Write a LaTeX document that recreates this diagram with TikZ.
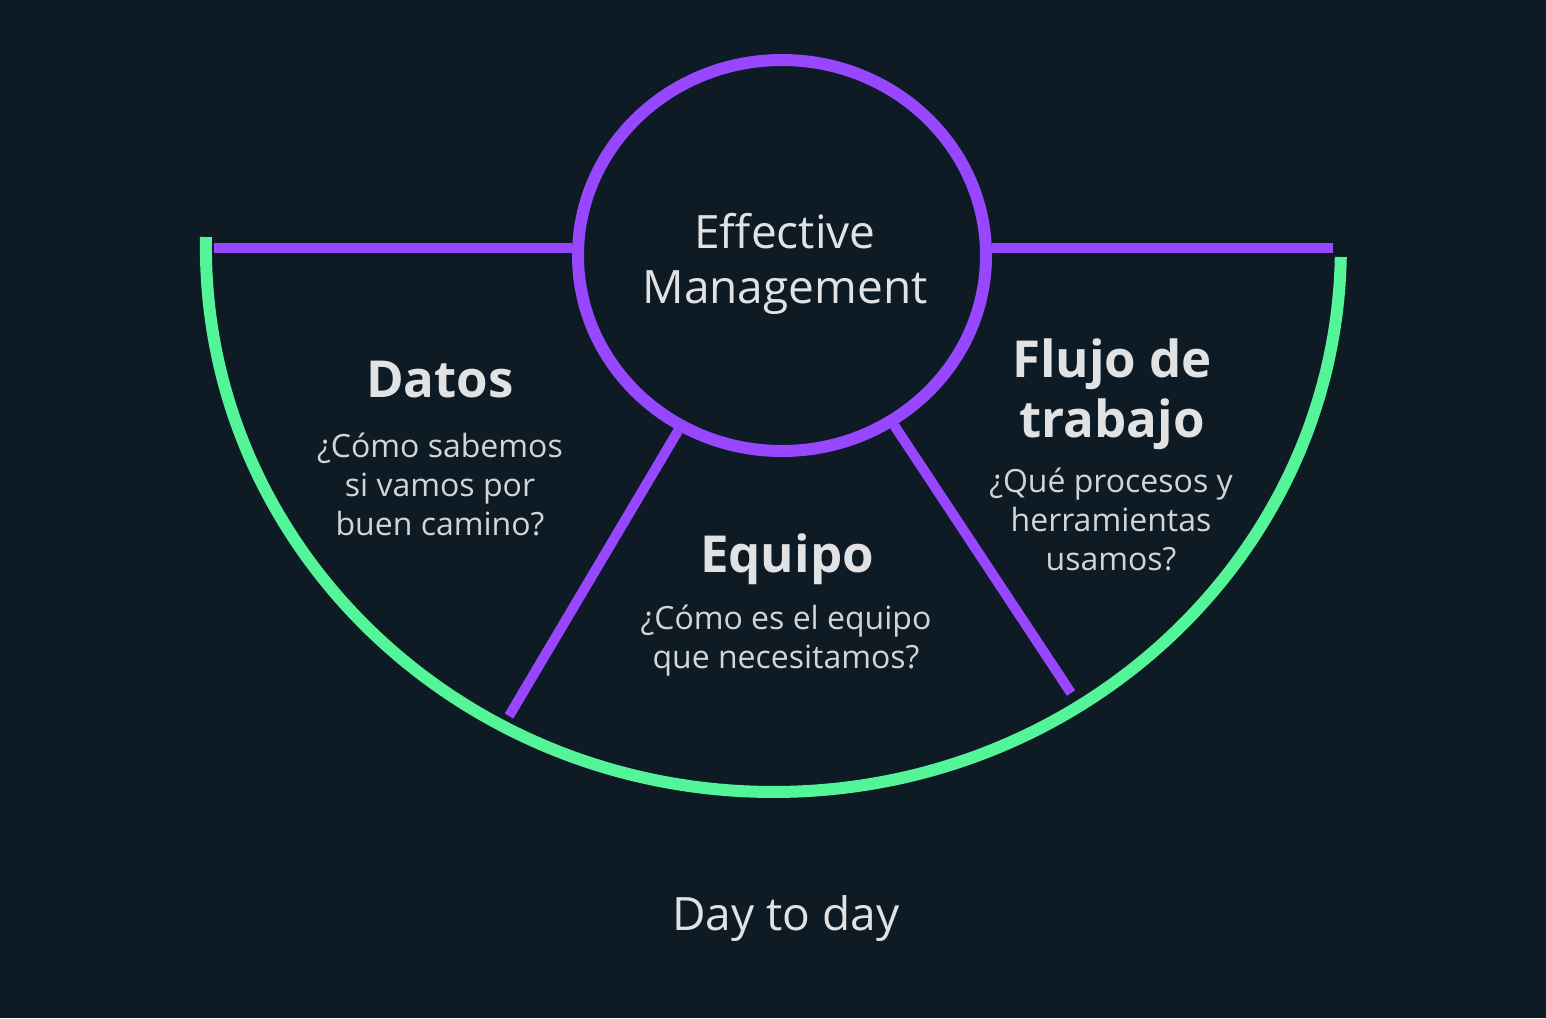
\documentclass[tikz,border=0pt]{standalone}
\usepackage{fontspec}
\setmainfont{Open Sans}
\usetikzlibrary{shapes.geometric}
\definecolor{bg}{HTML}{0F1B24}
\definecolor{vio}{HTML}{9747FF}
\definecolor{mint}{HTML}{54F599}
\definecolor{ink}{HTML}{E1E2E4}
\definecolor{soft}{HTML}{D2D4D6}
\begin{document}
\begin{tikzpicture}[x=1pt,y=-1pt,
  ring/.style={draw=vio,line width=12pt,ellipse,minimum width=408pt,minimum height=391pt,inner sep=0pt},
  bar/.style={draw=vio,line width=10pt},
  rim/.style={draw=mint,line width=12pt},
  head/.style={text=ink,font=\fontsize{51}{60}\selectfont\bfseries,align=center,anchor=base,inner sep=0pt},
  body/.style={text=soft,font=\fontsize{32}{39}\selectfont,align=center,anchor=base,inner sep=0pt},
  big/.style={text=ink,font=\fontsize{46}{55}\selectfont,align=center,anchor=base,inner sep=0pt}]
\fill[bg] (0,0) rectangle (1546,1018);
\useasboundingbox (0,0) rectangle (1546,1018);
\draw[rim] (206,237) arc[start angle=181.05,end angle=1.05,x radius=567.5,y radius=545];
\node[ring] (core) at (782,255.5) {};
\node[big] (title) at (785,303) {Effective\\Management};
\coordinate (hl) at (214,248);
\coordinate (hr) at (1333,248);
\coordinate (sl) at (509,716);
\coordinate (sr) at (1071,693);
\draw[bar] (hl) -- (core.west |- hl);
\draw[bar] (core.east |- hr) -- (hr);
\draw[bar] (core) -- (sl);
\draw[bar] (core) -- (sr);
\node[head] (datos) at (440,397) {Datos};
\node[body] (datosq) at (440,535) {¿Cómo sabemos\\si vamos por\\buen camino?};
\node[head] (equipo) at (787,572) {Equipo};
\node[body] (equipoq) at (786,668) {¿Cómo es el equipo\\que necesitamos?};
\node[head] (flujo) at (1112,437) {Flujo de\\trabajo};
\node[body] (flujoq) at (1111,570) {¿Qué procesos y\\herramientas\\usamos?};
\node[big] (day) at (786,930) {Day to day};
\end{tikzpicture}
\end{document}
